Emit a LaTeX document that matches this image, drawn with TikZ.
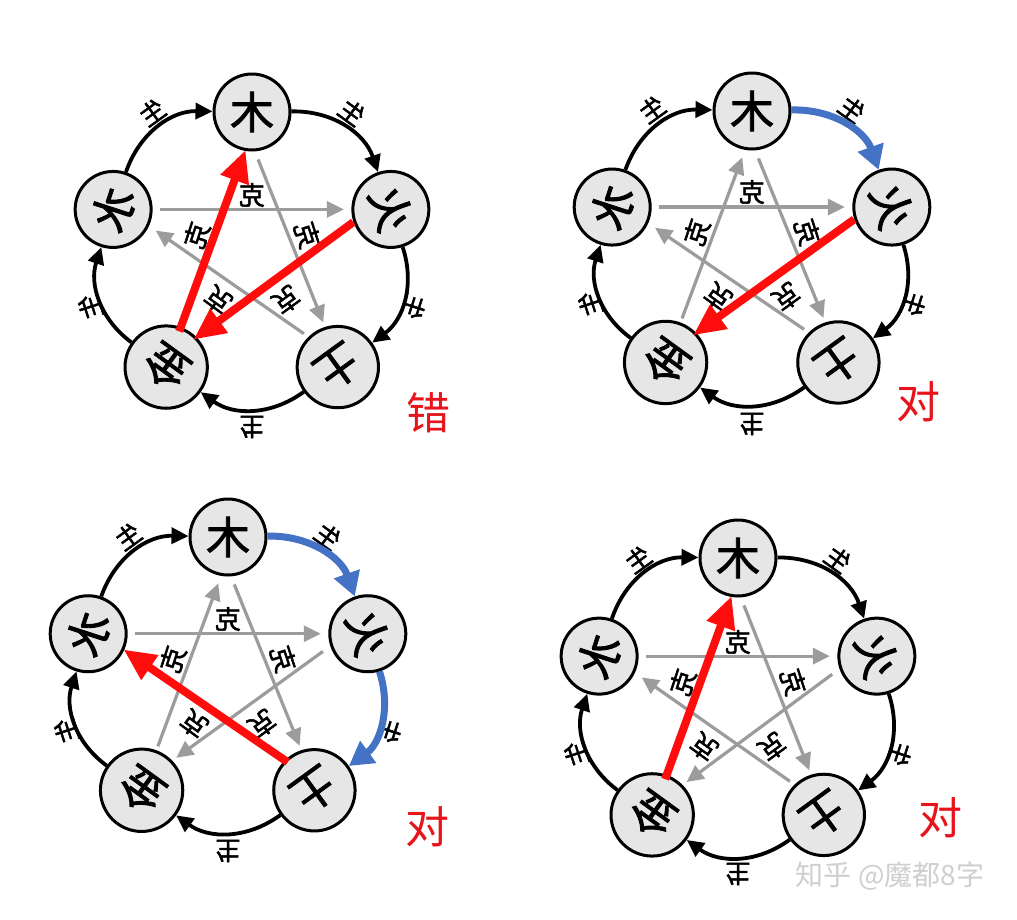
\documentclass[tikz,border=0pt]{standalone}
\usepackage{fontspec}
\usepackage{graphicx}
\usetikzlibrary{arrows.meta,calc}
\newfontfamily\cjk{Noto Sans CJK SC}
\newfontfamily\cjkb[FakeBold=2]{Noto Sans CJK SC}
\definecolor{nodefill}{HTML}{E6E6E6}
\definecolor{kegray}{HTML}{9C9C9C}
\definecolor{hired}{HTML}{FF0D0D}
\definecolor{hiblue}{HTML}{4472C4}
\definecolor{verdict}{HTML}{E8141B}
\definecolor{wmark}{HTML}{CFCFCF}

\tikzset{
  elem/.style={circle, draw=black, line width=3pt, fill=nodefill, minimum size=76pt, inner sep=0pt, font=\cjkb\fontsize{44}{44}\selectfont},
  shenglab/.style={inner sep=0pt, font=\cjkb\fontsize{25}{25}\selectfont},
  kelab/.style={inner sep=0pt, font=\cjkb\fontsize{26}{26}\selectfont},
  shengarr/.style={draw=black, line width=3.8pt, -{Triangle[length=17pt,width=16pt]}},
  bluearr/.style={draw=hiblue, line width=7pt, -{Triangle[length=24pt,width=26pt]}},
  kearr/.style={draw=kegray, line width=3.2pt, -{Triangle[length=17pt,width=16pt]}, shorten <=47pt, shorten >=47pt},
  redarr/.style={draw=hired, line width=8pt, -{Triangle[length=32pt,width=28pt]}, shorten <=38pt, shorten >=38pt},
  verdictlab/.style={text=verdict, inner sep=0pt, font=\cjk\fontsize{44}{44}\selectfont},
}

% #1 prefix, #2 cx, #3 cy, #4 Rx, #5 Ry
\newcommand\wxpanel[5]{%
  \coordinate (#1-c) at (#2,#3);
  \node[elem] (#1-mu)   at ($(#1-c)+(-90:#4 and #5)$) {\rotatebox{0}{\reflectbox{木}}};
  \node[elem] (#1-huo)  at ($(#1-c)+(-18:#4 and #5)$) {\rotatebox{-72}{\reflectbox{火}}};
  \node[elem] (#1-tu)   at ($(#1-c)+(54:#4 and #5)$)  {\rotatebox{-144}{\reflectbox{土}}};
  \node[elem] (#1-jin)  at ($(#1-c)+(126:#4 and #5)$) {\rotatebox{144}{\reflectbox{金}}};
  \node[elem] (#1-shui) at ($(#1-c)+(198:#4 and #5)$) {\rotatebox{72}{\reflectbox{水}}};
  \node[shenglab] (#1-s1) at ($(#1-c)+(-54:170 and 174)$) {\rotatebox{-36}{\reflectbox{生}}};
  \node[shenglab] (#1-s2) at ($(#1-c)+(18:170 and 174)$)  {\rotatebox{-108}{\reflectbox{生}}};
  \node[shenglab] (#1-s3) at ($(#1-c)+(90:170 and 174)$)  {\rotatebox{180}{\reflectbox{生}}};
  \node[shenglab] (#1-s4) at ($(#1-c)+(162:170 and 174)$) {\rotatebox{108}{\reflectbox{生}}};
  \node[shenglab] (#1-s5) at ($(#1-c)+(234:170 and 174)$) {\rotatebox{36}{\reflectbox{生}}};
  \node[kelab] (#1-k1) at ($(#1-c)+(-90:58)$) {\rotatebox{0}{\reflectbox{克}}};
  \node[kelab] (#1-k2) at ($(#1-c)+(-18:58)$) {\rotatebox{-72}{\reflectbox{克}}};
  \node[kelab] (#1-k3) at ($(#1-c)+(54:58)$)  {\rotatebox{-144}{\reflectbox{克}}};
  \node[kelab] (#1-k4) at ($(#1-c)+(126:58)$) {\rotatebox{144}{\reflectbox{克}}};
  \node[kelab] (#1-k5) at ($(#1-c)+(198:58)$) {\rotatebox{72}{\reflectbox{克}}};
}
% style, from, to, start offset, end offset
\newcommand\kearrow[5]{%
  \draw[#1] ($(#2)!#4!-90:(#3)$) -- ($(#3)!#5!90:(#2)$);}

\begin{document}
\begin{tikzpicture}[x=1pt,y=-1pt]
\useasboundingbox[fill=white] (0,0) rectangle (1017,919);

% ---------- panel a (top left) ----------
\wxpanel{a}{252}{253}{146}{141}
\draw[shengarr] (a-shui) to[bend left=36] (a-mu);
\draw[shengarr] (a-mu) to[bend left=36] (a-huo);
\draw[shengarr] (a-huo) to[bend left=36] (a-tu);
\draw[shengarr] (a-tu) to[bend left=36] (a-jin);
\draw[shengarr] (a-jin) to[bend left=36] (a-shui);
\kearrow{kearr}{a-shui}{a-huo}{0pt}{0pt}
\kearrow{kearr}{a-mu}{a-tu}{12pt}{-3pt}
\kearrow{kearr}{a-tu}{a-shui}{8pt}{7pt}
\kearrow{redarr}{a-jin}{a-mu}{0pt}{7pt}
\kearrow{redarr}{a-huo}{a-jin}{12pt}{6pt}
\node[verdictlab] (a-v) at (428,413) {错};

% ---------- panel b (top right) ----------
\wxpanel{b}{752}{250}{147}{139}
\draw[shengarr] (b-shui) to[bend left=36] (b-mu);
\draw[bluearr] (b-mu) to[bend left=36] (b-huo);
\draw[shengarr] (b-huo) to[bend left=36] (b-tu);
\draw[shengarr] (b-tu) to[bend left=36] (b-jin);
\draw[shengarr] (b-jin) to[bend left=36] (b-shui);
\kearrow{kearr}{b-shui}{b-huo}{0pt}{0pt}
\kearrow{kearr}{b-mu}{b-tu}{12pt}{-3pt}
\kearrow{kearr}{b-tu}{b-shui}{8pt}{7pt}
\kearrow{kearr}{b-jin}{b-mu}{0pt}{7pt}
\kearrow{redarr}{b-huo}{b-jin}{12pt}{6pt}
\node[verdictlab] (b-v) at (918,402) {对};

% ---------- panel c (bottom left) ----------
\wxpanel{c}{228}{677}{147}{140}
\draw[shengarr] (c-shui) to[bend left=36] (c-mu);
\draw[bluearr] (c-mu) to[bend left=36] (c-huo);
\draw[bluearr] (c-huo) to[bend left=36] (c-tu);
\draw[shengarr] (c-tu) to[bend left=36] (c-jin);
\draw[shengarr] (c-jin) to[bend left=36] (c-shui);
\kearrow{kearr}{c-shui}{c-huo}{0pt}{0pt}
\kearrow{kearr}{c-mu}{c-tu}{12pt}{-3pt}
\kearrow{kearr}{c-huo}{c-jin}{12pt}{6pt}
\kearrow{kearr}{c-jin}{c-mu}{0pt}{7pt}
\kearrow{redarr}{c-tu}{c-shui}{8pt}{7pt}
\node[verdictlab] (c-v) at (427,827) {对};

% ---------- panel d (bottom right) ----------
\wxpanel{d}{738}{700}{146}{142}
\draw[shengarr] (d-shui) to[bend left=36] (d-mu);
\draw[shengarr] (d-mu) to[bend left=36] (d-huo);
\draw[shengarr] (d-huo) to[bend left=36] (d-tu);
\draw[shengarr] (d-tu) to[bend left=36] (d-jin);
\draw[shengarr] (d-jin) to[bend left=36] (d-shui);
\kearrow{kearr}{d-shui}{d-huo}{0pt}{0pt}
\kearrow{kearr}{d-mu}{d-tu}{12pt}{-3pt}
\kearrow{kearr}{d-tu}{d-shui}{8pt}{7pt}
\kearrow{kearr}{d-huo}{d-jin}{12pt}{6pt}
\kearrow{redarr}{d-jin}{d-mu}{0pt}{7pt}
\node[verdictlab] (d-v) at (940,818) {对};

\node[text=wmark, inner sep=0pt, font=\cjk\fontsize{28}{28}\selectfont] (wm) at (890,876) {知乎 @魔都8字};
\end{tikzpicture}
\end{document}
